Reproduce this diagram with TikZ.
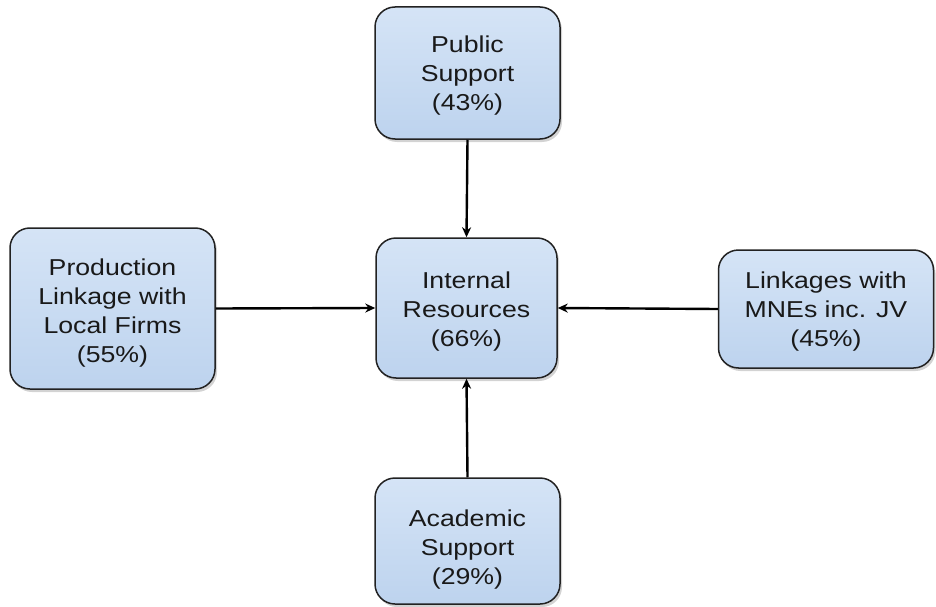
\documentclass[tikz,border=0pt]{standalone}
\usepackage{fontspec}
\setmainfont{Liberation Sans}
\newfontfamily\boxfont[FakeStretch=1.16]{Liberation Sans}
\usetikzlibrary{arrows.meta,shadows}
\definecolor{boxtop}{HTML}{D5E4F6}
\definecolor{boxbot}{HTML}{BDD3EE}
\definecolor{boxline}{HTML}{222222}
\begin{document}
\begin{tikzpicture}[x=1pt,y=1pt,
  box/.style={draw=boxline, line width=1.5pt, rounded corners=20pt,
    top color=boxtop, bottom color=boxbot, inner sep=0pt,
    drop shadow={shadow xshift=2pt, shadow yshift=-3pt, opacity=0.35}},
  boxtext/.style={align=center, inner sep=0pt,
    font=\boxfont\fontsize{23}{29}\selectfont, text=black!90},
  conn/.style={line width=2.4pt, -{Stealth[length=10pt,width=9pt]}}]
\useasboundingbox (0,0) rectangle (936,-607);
\node[box, minimum width=185pt, minimum height=132pt] (pub) at (467.5,-73) {};
\node[box, minimum width=181pt, minimum height=140pt] (int) at (466.5,-308) {};
\node[box, minimum width=205pt, minimum height=161pt] (prod) at (112.5,-308.5) {};
\node[box, minimum width=215pt, minimum height=118pt] (link) at (826,-309) {};
\node[box, minimum width=185pt, minimum height=126pt] (acad) at (467.5,-541) {};
\node[boxtext] (pubt) at ([yshift=-3pt]pub.center) {Public\\Support\\(43\%)};
\node[boxtext] (intt) at ([yshift=-4pt]int.center) {Internal\\Resources\\(66\%)};
\node[boxtext] (prodt) at ([yshift=-5pt]prod.center) {Production\\Linkage with\\Local Firms\\(55\%)};
\node[boxtext] (linkt) at ([yshift=-3pt]link.center) {Linkages with\\MNEs inc. JV\\(45\%)};
\node[boxtext] (acadt) at ([yshift=-9pt]acad.center) {Academic\\Support\\(29\%)};
\draw[conn] (pub.south) -- (int.north);
\draw[conn] (acad.north) -- (int.south);
\draw[conn] (prod.east) -- (int.west);
\draw[conn] (link.west) -- (int.east);
\end{tikzpicture}
\end{document}
